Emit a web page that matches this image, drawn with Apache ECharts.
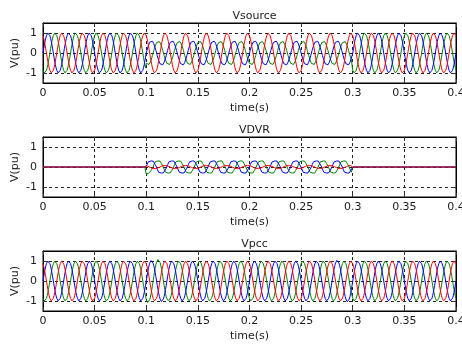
<!DOCTYPE html>
<html>
<head>
<meta charset="utf-8">
<script src="https://cdn.jsdelivr.net/npm/echarts@6/dist/echarts.min.js"></script>
<style>
html,body{margin:0;padding:0;background:#fff;}
#c{width:462px;height:344px;}
</style>
</head>
<body>
<div id="c"></div>
<script>
// ---- data ----
const panelTitles = ['Vsource', 'VDVR', 'Vpcc'];
const xTicks = [0, 0.05, 0.1, 0.15, 0.2, 0.25, 0.3, 0.35, 0.4];
const yTicks = [-1, 0, 1];
const period = 0.02;          // one cycle (50 Hz), 20 cycles over 0.4 s
const samplesPerCycle = 30;
// one cycle of the source waveform, sampled every 12 degrees
const sineCycle = [0, 0.208, 0.407, 0.588, 0.743, 0.866, 0.951, 0.995, 0.995, 0.951, 0.866, 0.743, 0.588, 0.407, 0.208,
                   0, -0.208, -0.407, -0.588, -0.743, -0.866, -0.951, -0.995, -0.995, -0.951, -0.866, -0.743, -0.588, -0.407, -0.208];
// one cycle of the (jagged) injected DVR waveform
const dvrCycle = [0, 0.30, 0.55, 0.72, 0.85, 0.98, 1.0, 0.84, 0.90, 0.97, 0.82, 0.64, 0.48, 0.32, 0.16,
                  0, -0.30, -0.55, -0.72, -0.85, -0.98, -1.0, -0.84, -0.90, -0.97, -0.82, -0.64, -0.48, -0.32, -0.16];
// phase offsets in samples (red +120 deg, blue 0, green -120 deg)
const phaseOffsets = {red: 10, blue: 0, green: 20};
// per-cycle amplitudes (20 cycles)
const vsourceRed   = [1,1,1,1,1, 1,1,1,1,1,1,1,1,1,1, 1,1,1,1,1];
const vsourceBlue  = [1,1,1,1,1, 0.62,0.62,0.62,0.62,0.62,0.62,0.62,0.62,0.62,0.62, 1,1,1,1,1];
const vsourceGreen = [1,1,1,1,1, 0.6,0.6,0.6,0.6,0.6,0.6,0.6,0.6,0.6,0.6, 1,1,1,1,1];
const vdvrRed      = [0,0,0,0,0, 0.08,0.08,0.08,0.08,0.08,0.08,0.08,0.08,0.08,0.08, 0,0,0,0,0];
const vdvrBlue     = [0,0,0,0,0, 0.36,0.36,0.36,0.36,0.36,0.36,0.36,0.36,0.36,0.36, 0,0,0,0,0];
const vdvrGreen    = [0,0,0,0,0, 0.36,0.36,0.36,0.36,0.36,0.36,0.36,0.36,0.36,0.36, 0,0,0,0,0];
const vpccRed      = [1,1,1,1,1, 1,1,1,1,1,1,1,1,1,1, 1,1,1,1,1];
const vpccBlue     = [1,1,1,1,1, 1.03,1,1,1,1,1,1,1,1,1.04, 1,1,1,1,1];
const vpccGreen    = [1,1,1,1,1, 1.08,1,1,1,1,1,1,1,1,1, 1,1,1,1,1];

const colors = {red: '#ff0000', blue: '#0000ff', green: '#008000'};

function build(amps, shape, offset) {
  const n = amps.length * samplesPerCycle;
  const out = [];
  for (let i = 0; i <= n; i++) {
    const cyc = Math.min(Math.floor(i / samplesPerCycle), amps.length - 1);
    out.push([i * period / samplesPerCycle, amps[cyc] * shape[(i + offset) % samplesPerCycle]]);
  }
  return out;
}

const panels = [
  {green: build(vsourceGreen, sineCycle, phaseOffsets.green), blue: build(vsourceBlue, sineCycle, phaseOffsets.blue), red: build(vsourceRed, sineCycle, phaseOffsets.red)},
  {green: build(vdvrGreen, dvrCycle, phaseOffsets.green), blue: build(vdvrBlue, dvrCycle, phaseOffsets.blue), red: build(vdvrRed, dvrCycle, phaseOffsets.red)},
  {green: build(vpccGreen, sineCycle, phaseOffsets.green), blue: build(vpccBlue, sineCycle, phaseOffsets.blue), red: build(vpccRed, sineCycle, phaseOffsets.red)}
];

const FONT = 'DejaVu Sans';
const TXT = '#1a1a1a';
const gridTops = [23, 137, 251];
const gridH = 60;
const gridLeft = 43, gridRight = 6;

const grids = [], xAxes = [], yAxes = [], series = [], titles = [];
gridTops.forEach((top, g) => {
  grids.push({left: gridLeft, right: gridRight, top: top, height: gridH, containLabel: false, outerBoundsMode: 'none',
    show: true, borderColor: '#000', borderWidth: 1, backgroundColor: 'transparent'});
  titles.push({text: panelTitles[g], left: (gridLeft + 462 - gridRight) / 2, top: top - 17, textAlign: 'center',
    textStyle: {fontFamily: FONT, fontSize: 11, fontWeight: 'normal', color: TXT}});
  xAxes.push({gridIndex: g, type: 'value', min: xTicks[0], max: xTicks[xTicks.length - 1], interval: 0.05,
    name: 'time(s)', nameLocation: 'middle', nameGap: 20, nameMoveOverlap: false,
    nameTextStyle: {fontFamily: FONT, fontSize: 11, color: TXT},
    axisLine: {show: true, onZero: false, lineStyle: {color: '#000', width: 1}},
    axisTick: {show: true, inside: true, length: 4, lineStyle: {color: '#333'}},
    axisLabel: {fontFamily: FONT, fontSize: 11, color: TXT, margin: 5, showMinLabel: true, showMaxLabel: true},
    splitLine: {show: true, lineStyle: {color: '#222', type: [3, 3], width: 1}}});
  xAxes.push({gridIndex: g, type: 'value', position: 'top', min: 0, max: 0.4, interval: 0.05,
    axisLine: {show: true, onZero: false, lineStyle: {color: '#000'}},
    axisTick: {show: true, inside: true, length: 4, lineStyle: {color: '#333'}},
    axisLabel: {show: false}, splitLine: {show: false}});
  yAxes.push({gridIndex: g, type: 'value', min: -1.5, max: 1.5,
    name: 'V(pu)', nameLocation: 'middle', nameGap: 22, nameRotate: 90, nameMoveOverlap: false,
    nameTextStyle: {fontFamily: FONT, fontSize: 11, color: TXT},
    axisLine: {show: true, onZero: false, lineStyle: {color: '#000', width: 1}},
    axisTick: {show: true, inside: true, length: 4, customValues: yTicks, lineStyle: {color: '#333'}},
    axisLabel: {fontFamily: FONT, fontSize: 11, color: TXT, margin: 6, customValues: yTicks},
    splitLine: {show: true, lineStyle: {color: '#222', type: [3, 3], width: 1}}});
  yAxes.push({gridIndex: g, type: 'value', position: 'right', min: -1.5, max: 1.5,
    axisLine: {show: true, onZero: false, lineStyle: {color: '#000'}},
    axisTick: {show: true, inside: true, length: 4, customValues: yTicks, lineStyle: {color: '#333'}},
    axisLabel: {show: false}, splitLine: {show: false}});
  ['green', 'blue', 'red'].forEach(c => {
    series.push({type: 'line', xAxisIndex: g * 2, yAxisIndex: g * 2, data: panels[g][c],
      showSymbol: false, symbol: 'none', lineStyle: {color: colors[c], width: 1}, itemStyle: {color: colors[c]},
      animation: false, silent: true});
  });
});

const chart = echarts.init(document.getElementById('c'), null, {renderer: 'canvas'});
chart.setOption({
  backgroundColor: '#fff',
  animation: false,
  title: titles,
  grid: grids,
  xAxis: xAxes,
  yAxis: yAxes,
  series: series
});
</script>
</body>
</html>
